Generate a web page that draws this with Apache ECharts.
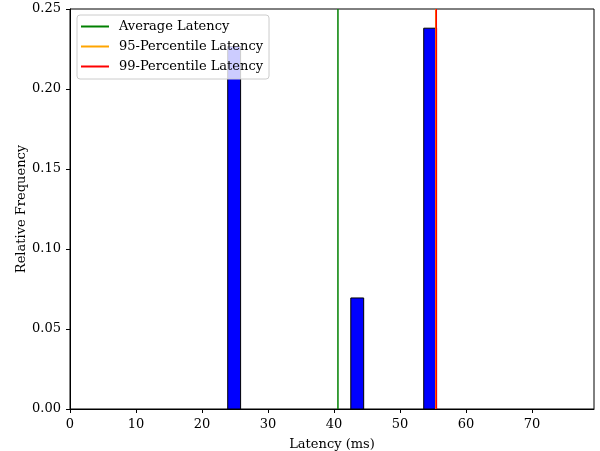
<!DOCTYPE html>
<html>
<head>
<meta charset="utf-8">
<script src="https://cdn.jsdelivr.net/npm/echarts@6/dist/echarts.min.js"></script>
<style>html,body{margin:0;padding:0;background:#fff}#c{width:600px;height:451px}</style>
</head>
<body>
<div id="c"></div>
<script>
// Histogram bins: [left edge, right edge]
const binStarts = [23.9, 42.55, 53.6];
const binEnds = [25.85, 44.5, 55.55];
const frequencies = [0.2266, 0.0694, 0.238];
const avgLatency = 40.6;
const p95Latency = 55.42;
const p99Latency = 55.5;
const xTicks = [0, 10, 20, 30, 40, 50, 60, 70];
const yTicks = [0.00, 0.05, 0.10, 0.15, 0.20, 0.25];
const lineNames = ['Average Latency', '95-Percentile Latency', '99-Percentile Latency'];
const lineValues = [avgLatency, p95Latency, p99Latency];
const lineColors = ['#008000', '#ffa500', '#ff0000'];

const FONT = 'DejaVu Serif';
const chart = echarts.init(document.getElementById('c'), null, {renderer: 'canvas'});

const barData = binStarts.map((s, i) => [s, binEnds[i], frequencies[i]]);

const lineSeries = lineNames.map((n, i) => ({
  name: n,
  type: 'line',
  data: [[lineValues[i], yTicks[0]], [lineValues[i], yTicks[yTicks.length - 1]]],
  symbol: 'none',
  lineStyle: {color: lineColors[i], width: 1.5},
  itemStyle: {color: lineColors[i]},
  z: 3 + i,
  silent: true,
  animation: false
}));

chart.setOption({
  animation: false,
  textStyle: {fontFamily: FONT},
  grid: {left: 70, top: 9, width: 524, height: 400, show: true, borderColor: '#000', borderWidth: 1,
    backgroundColor: 'transparent', containLabel: false, outerBoundsMode: 'none'},
  legend: {
    orient: 'vertical', left: 77, top: 15,
    data: lineNames.map(n => ({name: n, icon: 'rect'})),
    itemWidth: 28, itemHeight: 2, itemGap: 5,
    padding: [4, 6, 5, 4],
    backgroundColor: 'rgba(255,255,255,0.8)',
    borderColor: '#cccccc', borderWidth: 1, borderRadius: 3,
    textStyle: {fontFamily: FONT, fontSize: 13, color: '#000', lineHeight: 15, padding: [0, 0, 0, 5]},
    selectedMode: false, z: 10
  },
  xAxis: {
    type: 'value', min: 0, max: 79.4, interval: 10,
    name: 'Latency (ms)', nameLocation: 'middle', nameGap: 29, nameMoveOverlap: false,
    nameTextStyle: {fontFamily: FONT, fontSize: 13, color: '#000'},
    axisLine: {show: true, lineStyle: {color: '#000', width: 1}},
    axisTick: {show: true, length: 4, lineStyle: {color: '#000'}},
    axisLabel: {fontFamily: FONT, fontSize: 13, color: '#000', margin: 9, showMaxLabel: false,
      formatter: v => xTicks.includes(v) ? String(v) : ''},
    splitLine: {show: false}
  },
  yAxis: {
    type: 'value', min: 0, max: 0.25, interval: 0.05,
    name: 'Relative Frequency', nameLocation: 'middle', nameGap: 42, nameMoveOverlap: false,
    nameTextStyle: {fontFamily: FONT, fontSize: 13, color: '#000'},
    axisLine: {show: true, lineStyle: {color: '#000', width: 1}},
    axisTick: {show: true, length: 4, lineStyle: {color: '#000'}},
    axisLabel: {fontFamily: FONT, fontSize: 13, color: '#000', margin: 9,
      formatter: v => v.toFixed(2)},
    splitLine: {show: false}
  },
  series: [{
    type: 'custom',
    name: 'hist',
    data: barData,
    encode: {x: [0, 1], y: 2},
    z: 2,
    renderItem: function (params, api) {
      const p0 = api.coord([api.value(0), api.value(2)]);
      const p1 = api.coord([api.value(1), 0]);
      return {
        type: 'rect',
        shape: {x: p0[0], y: p0[1], width: p1[0] - p0[0], height: p1[1] - p0[1]},
        style: {fill: '#0000ff', stroke: '#000', lineWidth: 1}
      };
    }
  }].concat(lineSeries)
});
</script>
</body>
</html>
